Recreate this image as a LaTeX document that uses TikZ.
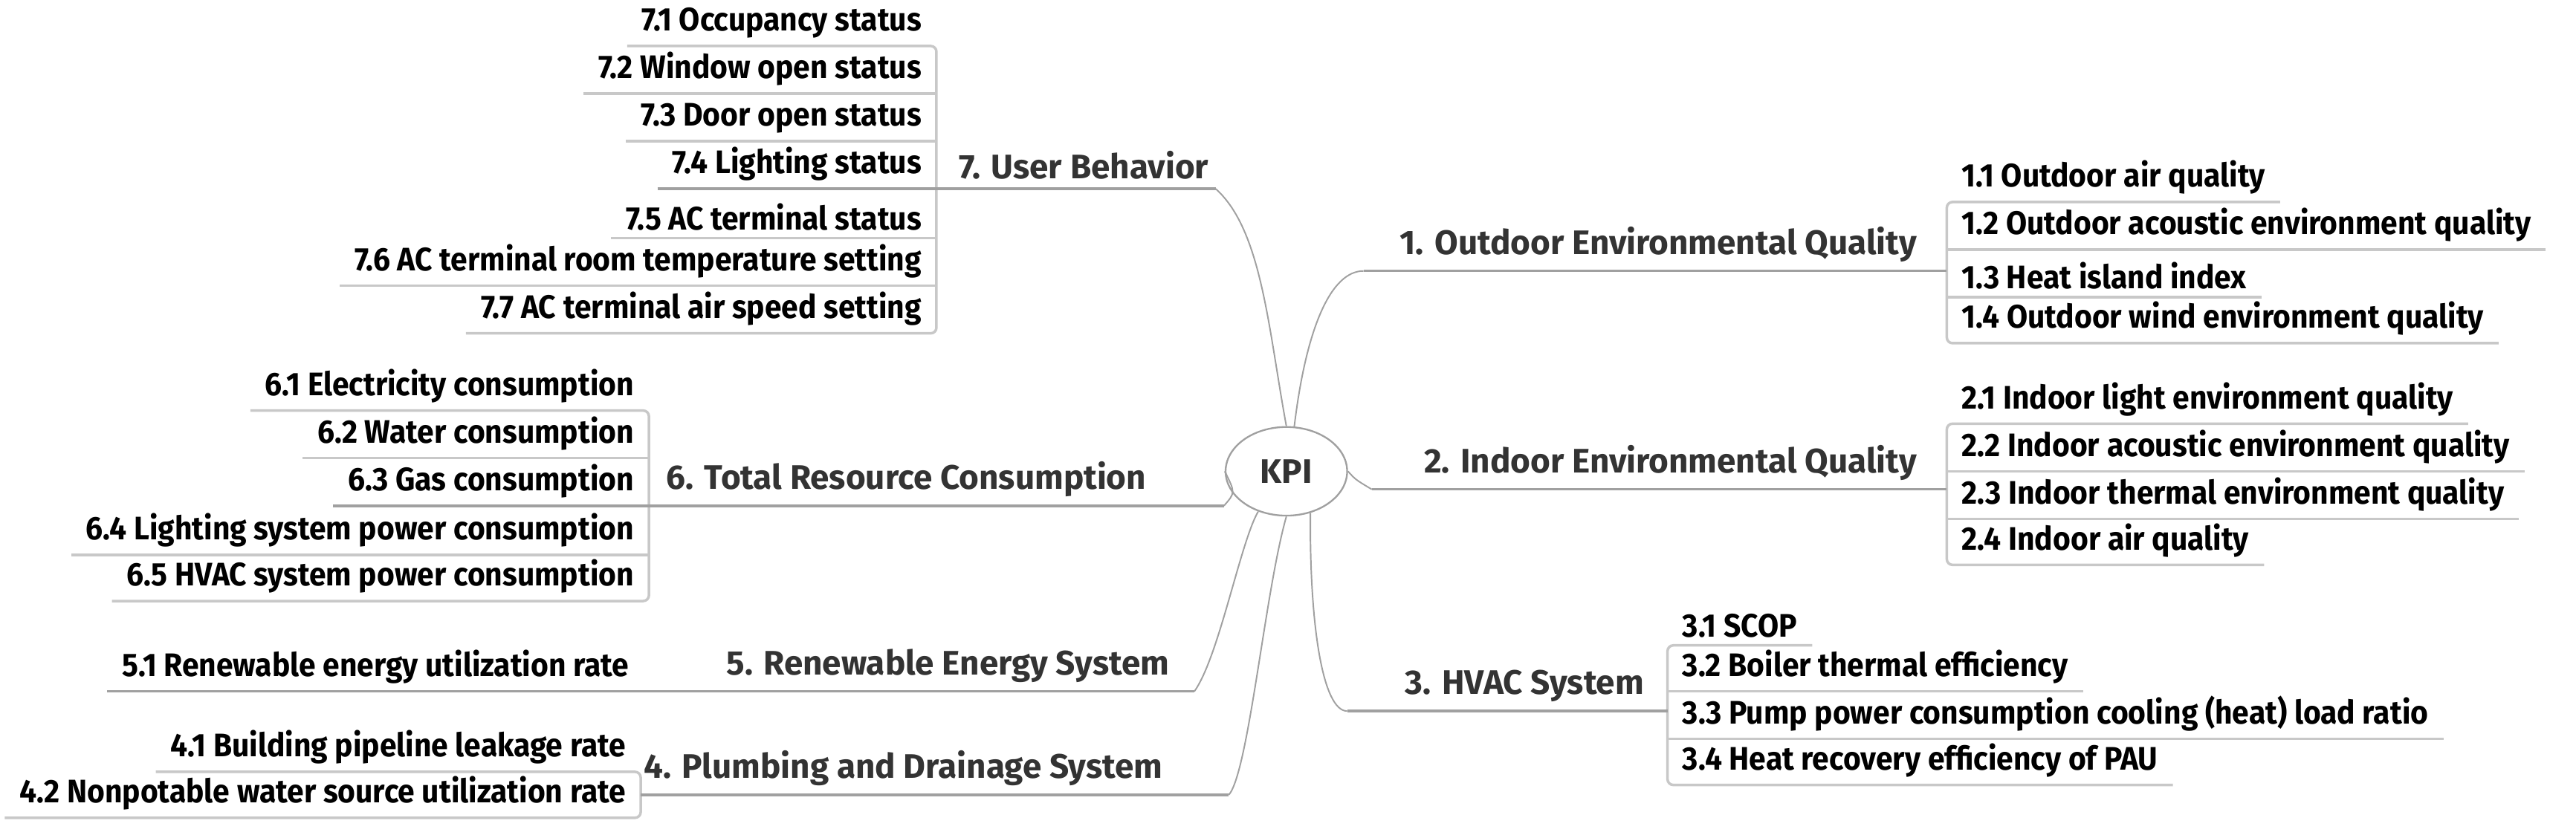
\documentclass[tikz,border=0pt]{standalone}
\usepackage{fontspec}
\setmainfont{Fira Sans}
\newfontfamily\leaffont{Fira Sans}[FakeStretch=0.93]
\usetikzlibrary{shapes.geometric}
\definecolor{leafline}{HTML}{C8C8C8}
\definecolor{brline}{HTML}{A0A0A0}
\definecolor{brtext}{HTML}{333333}
\begin{document}
\begin{tikzpicture}[x=0.02cm,y=-0.02cm,
  leafL/.style={anchor=south east,inner xsep=5pt,inner ysep=2.5pt,font=\leaffont\fontsize{11.3}{12}\selectfont\bfseries},
  leafR/.style={anchor=south west,inner xsep=5pt,inner ysep=2.5pt,font=\leaffont\fontsize{11.3}{12}\selectfont\bfseries},
  brL/.style={anchor=south east,inner xsep=0pt,inner ysep=3pt,text=brtext,font=\fontsize{11.8}{13}\selectfont\bfseries},
  brR/.style={anchor=south east,inner xsep=0pt,inner ysep=3pt,text=brtext,font=\fontsize{11.8}{13}\selectfont\bfseries},
  lline/.style={draw=leafline,line width=0.9pt,rounded corners=2pt},
  bline/.style={draw=brline,line width=0.9pt},
  cline/.style={draw=brline,line width=0.5pt}]
\useasboundingbox (0,0) rectangle (1568,510);
\node[ellipse,draw=brline,line width=0.6pt,minimum width=1.48cm,minimum height=1.08cm,text=brtext,font=\fontsize{11.8}{13}\selectfont\bfseries] (kpi) at (783,287) {KPI};

% ---- 7 User Behavior
\node[leafL] (l71) at (570,28) {7.1 Occupancy status};
\node[leafL] (l72) at (570,57) {7.2 Window open status};
\node[leafL] (l73) at (570,86) {7.3 Door open status};
\node[leafL] (l74) at (570,115) {7.4 Lighting status};
\node[leafL] (l75) at (570,145) {7.5 AC terminal status};
\node[leafL] (l76) at (570,174) {7.6 AC terminal room temperature setting};
\node[leafL] (l77) at (570,203) {7.7 AC terminal air speed setting};
\foreach \n in {72,73,75,76}{\draw[lline] (l\n.south west) -- (l\n.south east);}
\draw[lline] (l71.south west) -- (l71.south east) -- (l77.south east) -- (l77.south west);
\node[brL] (b7) at (736,115) {7. User Behavior};
\coordinate (e7) at (740,115);
\draw[bline] (l74.south west) -- (e7);
\draw[cline] (e7) .. controls (768,140) and (772,200) .. (kpi.north);

% ---- 6 Total Resource Consumption
\node[leafL] (l61) at (395,250) {6.1 Electricity consumption};
\node[leafL] (l62) at (395,279) {6.2 Water consumption};
\node[leafL] (l63) at (395,308) {6.3 Gas consumption};
\node[leafL] (l64) at (395,338) {6.4 Lighting system power consumption};
\node[leafL] (l65) at (395,366) {6.5 HVAC system power consumption};
\foreach \n in {62,64}{\draw[lline] (l\n.south west) -- (l\n.south east);}
\draw[lline] (l61.south west) -- (l61.south east) -- (l65.south east) -- (l65.south west);
\node[brL] (b6) at (698,308) {6. Total Resource Consumption};
\coordinate (e6) at (745,308);
\draw[bline] (l63.south west) -- (e6);
\draw[cline] (e6) .. controls (752,300) .. (kpi.west);

% ---- 5 Renewable Energy System
\node[leafL] (l51) at (392,421) {5.1 Renewable energy utilization rate};
\node[brL] (b5) at (712,421) {5. Renewable Energy System};
\coordinate (e5) at (727,421);
\draw[bline] (l51.south west) -- (e5);
\draw[cline] (e5) .. controls (742,400) and (755,330) .. (kpi.235);

% ---- 4 Plumbing and Drainage System
\node[leafL] (l41) at (390,470) {4.1 Building pipeline leakage rate};
\node[leafL] (l42) at (390,498) {4.2 Nonpotable water source utilization rate};
\draw[lline] (l41.south west) -- (l41.south east) -- (l42.south east) -- (l42.south west);
\node[brL] (b4) at (708,484) {4. Plumbing and Drainage System};
\coordinate (e4) at (748,484);
\draw[bline] (390,484) -- (e4);
\draw[cline] (e4) .. controls (760,470) and (770,360) .. (kpi.south);

% ---- 1 Outdoor Environmental Quality
\node[leafR] (l11) at (1185,123) {1.1 Outdoor air quality};
\node[leafR] (l12) at (1185,152) {1.2 Outdoor acoustic environment quality};
\node[leafR] (l13) at (1185,181) {1.3 Heat island index};
\node[leafR] (l14) at (1185,209) {1.4 Outdoor wind environment quality};
\foreach \n in {12,13}{\draw[lline] (l\n.south west) -- (l\n.south east);}
\draw[lline] (l11.south east) -- (l11.south west) -- (l14.south west) -- (l14.south east);
\node[brR] (b1) at (1167,165) {1. Outdoor Environmental Quality};
\coordinate (s1) at (830,165);
\draw[bline] (s1) -- (1185,165);
\draw[cline] (kpi.80) .. controls (795,200) and (810,165) .. (s1);

% ---- 2 Indoor Environmental Quality
\node[leafR] (l21) at (1185,258) {2.1 Indoor light environment quality};
\node[leafR] (l22) at (1185,287) {2.2 Indoor acoustic environment quality};
\node[leafR] (l23) at (1185,316) {2.3 Indoor thermal environment quality};
\node[leafR] (l24) at (1185,344) {2.4 Indoor air quality};
\foreach \n in {22,23}{\draw[lline] (l\n.south west) -- (l\n.south east);}
\draw[lline] (l21.south east) -- (l21.south west) -- (l24.south west) -- (l24.south east);
\node[brR] (b2) at (1167,298) {2. Indoor Environmental Quality};
\coordinate (s2) at (835,298);
\draw[bline] (s2) -- (1185,298);
\draw[cline] (kpi.east) .. controls (825,292) .. (s2);

% ---- 3 HVAC System
\node[leafR] (l31) at (1015,393) {3.1 SCOP};
\node[leafR] (l32) at (1015,421) {3.2 Boiler thermal efficiency};
\node[leafR] (l33) at (1015,450) {3.3 Pump power consumption cooling (heat) load ratio};
\node[leafR] (l34) at (1015,478) {3.4 Heat recovery efficiency of PAU};
\foreach \n in {32,33}{\draw[lline] (l\n.south west) -- (l\n.south east);}
\draw[lline] (l31.south east) -- (l31.south west) -- (l34.south west) -- (l34.south east);
\node[brR] (b3) at (1001,433) {3. HVAC System};
\coordinate (s3) at (820,433);
\draw[bline] (s3) -- (1015,433);
\draw[cline] (kpi.300) .. controls (797,380) and (805,433) .. (s3);
\end{tikzpicture}
\end{document}
